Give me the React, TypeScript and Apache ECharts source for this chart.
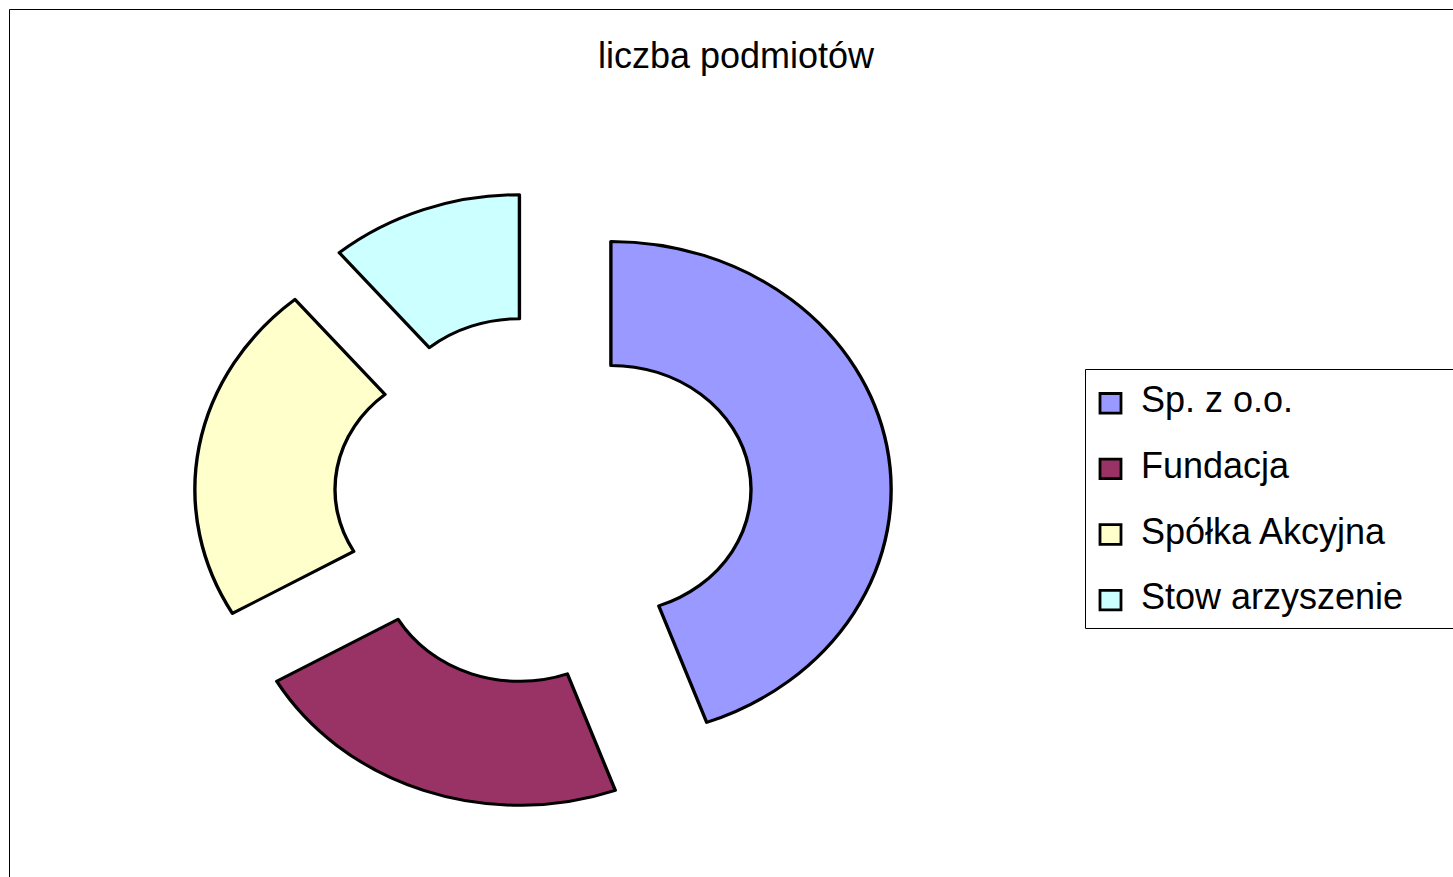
import React, { useEffect, useRef } from "react";
import * as echarts from "echarts";

// ---- data ----
const chartTitle = "liczba podmiotów";
const categories = ["Sp. z o.o.", "Fundacja", "Spółka Akcyjna", "Stow arzyszenie"];
const values = [8, 4, 4, 2];
const colors = ["#9999FF", "#993366", "#FFFFCC", "#CCFFFF"];

const FONT = '"Liberation Sans", Arial, Helvetica, sans-serif';
const STRETCH = 1.13; // the original doughnut is drawn slightly wider than tall

export default function App() {
  const frameRef = useRef<HTMLDivElement>(null);
  const pieRef = useRef<HTMLDivElement>(null);

  useEffect(() => {
    const frame = echarts.init(frameRef.current!, null, { renderer: "svg" });
    const pie = echarts.init(pieRef.current!, null, { renderer: "svg" });

    const rowTop = 403.3;
    const rowGap = 65.6;
    const legendEls: any[] = [
      {
        type: "rect",
        silent: true,
        shape: { x: 1085.5, y: 369.5, width: 1000, height: 259 },
        style: { fill: "#ffffff", stroke: "#000000", lineWidth: 1 },
      },
    ];
    categories.forEach((name, i) => {
      const cy = rowTop + i * rowGap;
      legendEls.push({
        type: "rect",
        silent: true,
        shape: { x: 1100, y: cy - 9.8, width: 21, height: 19.6 },
        style: { fill: colors[i], stroke: "#000000", lineWidth: 2.8 },
      });
      legendEls.push({
        type: "text",
        silent: true,
        x: 1141,
        y: cy - 3.5,
        style: {
          text: name,
          fontSize: 36,
          fontFamily: FONT,
          fill: "#000000",
          align: "left",
          verticalAlign: "middle",
        },
      });
    });

    frame.setOption({
      animation: false,
      backgroundColor: "#ffffff",
      title: {
        text: chartTitle,
        left: 731,
        top: 32,
        textAlign: "center",
        textStyle: {
          fontSize: 36,
          fontFamily: FONT,
          fontWeight: "normal",
          color: "#000000",
        },
      },
      graphic: [
        {
          type: "rect",
          silent: true,
          shape: { x: 9.5, y: 9.5, width: 3000, height: 3000 },
          style: { fill: "none", stroke: "#000000", lineWidth: 1 },
        },
        ...legendEls,
      ],
    });

    pie.setOption({
      animation: false,
      series: [
        {
          type: "pie",
          center: ["50%", "50%"],
          radius: [124, 248],
          startAngle: 90,
          clockwise: true,
          selectedMode: "multiple",
          selectedOffset: 61,
          label: { show: false },
          labelLine: { show: false },
          emphasis: { disabled: true },
          itemStyle: { borderColor: "#000000", borderWidth: 3 },
          data: categories.map((name, i) => ({
            name,
            value: values[i],
            selected: true,
            itemStyle: { color: colors[i] },
          })),
        },
      ],
    });

    return () => {
      frame.dispose();
      pie.dispose();
    };
  }, []);

  return (
    <div
      style={{
        position: "fixed",
        left: 0,
        top: 0,
        width: 1453,
        height: 877,
        overflow: "hidden",
        background: "#ffffff",
      }}
    >
      <div
        ref={frameRef}
        style={{ position: "absolute", left: 0, top: 0, width: 1453, height: 877 }}
      />
      <div
        ref={pieRef}
        style={{
          position: "absolute",
          left: 193,
          top: 150,
          width: 700,
          height: 700,
          transform: `scaleX(${STRETCH})`,
          transformOrigin: "50% 50%",
        }}
      />
    </div>
  );
}
